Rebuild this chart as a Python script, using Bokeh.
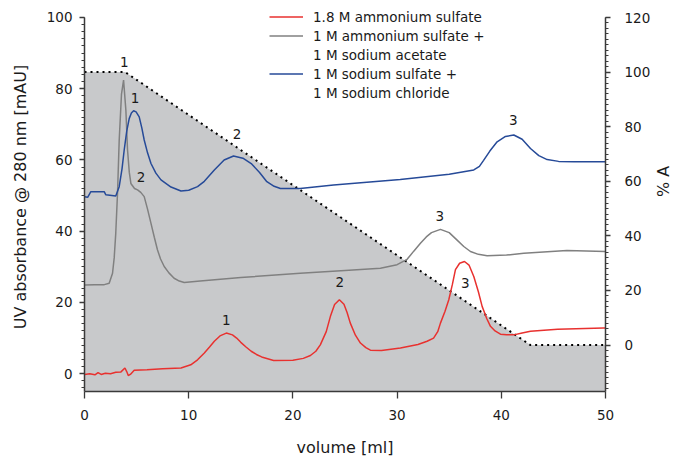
import math
from bokeh.plotting import figure
from bokeh.models import Range1d, LinearAxis, FixedTicker, Legend, LegendItem
from bokeh.embed import file_html
from bokeh.resources import INLINE
from bokeh.core.properties import value

# ---------------- data ----------------
red_x = [0, 0.5, 1.0, 1.3, 1.6, 2.0, 2.5, 3.0, 3.5, 3.88, 4.05, 4.2, 4.4, 4.77, 6, 7.5, 9.26, 10.2,
         10.85, 11.5, 12.0, 12.46, 13.0, 13.61, 14.2, 14.6, 15.0, 15.5, 16.0, 16.5, 17.0, 18.15, 20.0,
         21.0, 21.68, 22.2, 22.63, 23.2, 23.6, 24.0, 24.46, 24.9, 25.2, 25.51, 26.0, 26.48, 27.0,
         27.44, 28.5, 30.32, 32.0, 32.88, 33.5, 33.9, 34.16, 34.6, 34.96, 35.3, 35.6, 36.0, 36.47,
         36.9, 37.36, 37.8, 38.16, 38.6, 38.96, 39.4, 39.92, 40.5, 41.2, 42.0, 42.8, 45.4, 49.8, 50]
red_y = [-0.2, 0, -0.3, 0.3, -0.2, 0.1, 0, 0.4, 0.5, 1.6, 0.6, -0.5, -0.2, 0.95, 1.1, 1.4, 1.6, 2.5,
         3.9, 5.8, 7.5, 9.1, 10.6, 11.4, 10.9, 10.0, 8.8, 7.5, 6.3, 5.4, 4.7, 3.7, 3.8,
         4.3, 5.1, 6.3, 8.1, 11.8, 16.1, 19.4, 20.75, 19.5, 17.2, 14.2, 10.8, 8.6, 7.3,
         6.6, 6.5, 7.2, 8.2, 9.1, 10.0, 11.8, 14.2, 17.5, 20.75, 25.0, 29.2, 31.0, 31.5,
         30.5, 27.3, 23.0, 18.9, 15.5, 13.3, 12.0, 11.1, 10.9, 10.9, 11.4, 11.9, 12.5, 12.8, 12.8]

gray_x = [0, 1.0, 1.9, 2.37, 2.69, 2.85, 3.0, 3.17, 3.33, 3.55, 3.75, 3.97, 4.13, 4.3, 4.45, 4.8,
          5.09, 5.4, 5.73, 6.05, 6.38, 6.7, 7.0, 7.3, 7.65, 8.1, 8.6, 9.1, 9.57, 11.1, 15, 20.7,
          25, 28.4, 30.0, 30.96, 31.6, 32.24, 32.8, 33.3, 34.16, 35.0, 35.76, 36.4, 37.04, 37.8,
          38.64, 40.5, 42.16, 46.3, 50]
gray_y = [24.9, 25.0, 25.0, 25.4, 28.2, 32.5, 39.4, 50.7, 65.5, 78.5, 82.4, 74, 62.8, 56.5, 53.4, 52.0,
          51.6, 50.9, 49.7, 46.2, 42.2, 38.3, 34.8, 32.2, 30.1, 28.3, 26.8, 26.0, 25.6, 26.0, 27.0, 28.2,
          29.0, 29.6, 30.6, 32.1, 34.4, 36.6, 38.4, 39.6, 40.5, 39.6, 37.5, 35.7, 34.3, 33.5,
          33.1, 33.3, 33.8, 34.6, 34.3]

blue_x = [0, 0.3, 0.61, 1.89, 2.05, 3.0, 3.33, 3.6, 3.81, 4.05, 4.29, 4.5, 4.71, 4.95, 5.25, 5.5,
          5.73, 6.05, 6.38, 6.85, 7.34, 8.3, 9.26, 10.0, 10.85, 11.5, 12.46, 13.4, 14.3, 15.2, 16.0,
          16.8, 17.5, 18.2, 18.8, 20.7, 23.9, 30.3, 35.0, 37.36, 37.9, 38.3, 38.9, 39.6, 40.4, 41.2,
          42.0, 42.8, 43.6, 44.4, 45.5, 46.96, 50]
blue_y = [49.7, 49.5, 51.1, 51.1, 50.2, 49.9, 52.5, 57.5, 62.8, 68.0, 71.6, 73.2, 73.8, 73.5, 72.1, 69.0,
          65.6, 62.0, 59.0, 56.3, 54.4, 52.4, 51.3, 51.5, 52.5, 54.0, 57.2, 60.0, 61.1, 60.5, 59.0,
          56.5, 53.9, 52.6, 52.0, 52.0, 53.0, 54.5, 56.0, 57.2, 58.2, 59.9, 62.5, 65.1, 66.6, 67.0,
          65.8, 63.2, 61.2, 60.1, 59.6, 59.5, 59.5]

# gradient (% A, right axis)
grad_x = [0, 3.9, 42.8, 50]
grad_pct = [100, 100, 0, 0]

# peak labels
label_x = [3.82, 4.84, 5.42, 14.64, 41.15, 34.1, 13.6, 24.5, 36.55]
label_y = [87.4, 77.4, 55.3, 67.2, 71.1, 44.3, 15.1, 25.8, 25.5]
label_text = ["1", "1", "2", "2", "3", "3", "1", "2", "3"]

legend_lines = [("1.8 M ammonium sulfate", "red"),
                ("1 M ammonium sulfate +", "gray"),
                ("1 M sodium acetate", None),
                ("1 M sodium sulfate +", "blue"),
                ("1 M sodium chloride", None)]

x_ticks = [0, 10, 20, 30, 40, 50]
left_ticks = [0, 20, 40, 60, 80, 100]
left_minor = list(range(-4, 101, 2))
right_ticks = [0, 20, 40, 60, 80, 100, 120]
right_minor = list(range(-16, 121, 2))

X_RANGE = (0, 50)
LEFT_RANGE = (-5, 104.2)      # visible frame; axis drawn only over LEFT_AXIS
LEFT_AXIS = (-5, 100)
RIGHT_RANGE = (-17, 125.5)
RIGHT_AXIS = (-17, 120)

# ---------------- styles ----------------
FONT = "DejaVu Sans"
TXT = "#1a1a1a"
AX = "#3a3a3a"
RED = "#e8312f"
GRAY = "#808080"
BLUE = "#264a98"
FILL = "#c8c9cb"

p = figure(width=690, height=459, output_backend="svg", toolbar_location=None,
           x_range=Range1d(*X_RANGE), y_range=Range1d(*LEFT_RANGE),
           min_border_left=84, min_border_right=85, min_border_top=2, min_border_bottom=67)
p.extra_y_ranges = {"pct": Range1d(*RIGHT_RANGE)}
p.outline_line_color = None
p.xgrid.visible = False
p.ygrid.visible = False

# gradient fill + dotted boundary
p.varea(x=grad_x, y1=[RIGHT_AXIS[0]] * len(grad_x), y2=grad_pct, y_range_name="pct",
        fill_color=FILL)
p.line(grad_x, grad_pct, y_range_name="pct", line_color="black", line_width=2,
       line_dash="2 4")

renderers = {
    "red": p.line(red_x, red_y, line_color=RED, line_width=1.5),
    "gray": p.line(gray_x, gray_y, line_color=GRAY, line_width=1.5),
    "blue": p.line(blue_x, blue_y, line_color=BLUE, line_width=1.5),
}
blank = p.line(x=[], y=[], line_alpha=0)

p.text(x=label_x, y=label_y, text=label_text, text_align="center", text_baseline="middle",
       text_font=value(FONT), text_font_size="13.5px", text_color=TXT)

def style_axis(ax):
    ax.axis_line_color = AX
    ax.axis_line_width = 1.5
    ax.major_tick_line_color = AX
    ax.minor_tick_line_color = AX
    ax.major_tick_line_width = 1.3
    ax.minor_tick_line_width = 1.0
    ax.major_tick_in = 0
    ax.minor_tick_in = 0
    ax.major_label_text_font = FONT
    ax.major_label_text_font_size = "13.5px"
    ax.major_label_text_color = TXT
    ax.axis_label_text_font = FONT
    ax.axis_label_text_font_size = "16px"
    ax.axis_label_text_font_style = "normal"
    ax.axis_label_text_color = TXT

# bottom axis
xa = p.xaxis[0]
style_axis(xa)
xa.ticker = FixedTicker(ticks=x_ticks, minor_ticks=[])
xa.major_tick_out = 7
xa.major_label_standoff = 11
xa.axis_label = "volume [ml]"
xa.axis_label_standoff = 15

# left axis
ya = p.yaxis[0]
style_axis(ya)
ya.bounds = LEFT_AXIS
ya.ticker = FixedTicker(ticks=left_ticks, minor_ticks=left_minor)
ya.major_tick_out = 5
ya.minor_tick_out = 3
ya.major_label_standoff = 7
ya.axis_label = "UV absorbance @ 280 nm [mAU]"
ya.axis_label_standoff = 14

# right axis
ra = LinearAxis(y_range_name="pct")
style_axis(ra)
ra.bounds = RIGHT_AXIS
ra.ticker = FixedTicker(ticks=right_ticks, minor_ticks=right_minor)
ra.major_tick_out = 5
ra.minor_tick_out = 3
ra.major_label_standoff = 14
ra.axis_label = "% A"
ra.axis_label_standoff = 10
ra.axis_label_orientation = math.pi / 2
p.add_layout(ra, "right")

items = [LegendItem(label=txt, renderers=[renderers[key] if key else blank])
         for txt, key in legend_lines]
legend = Legend(items=items, location=(185, 289), orientation="vertical",
                glyph_width=34, glyph_height=19, label_height=19, label_standoff=10,
                spacing=0, padding=0, margin=0,
                border_line_alpha=0, background_fill_alpha=0,
                label_text_font=FONT, label_text_font_size="13.5px", label_text_color=TXT)
p.add_layout(legend)

open("out.html", "w").write(file_html(p, INLINE))
